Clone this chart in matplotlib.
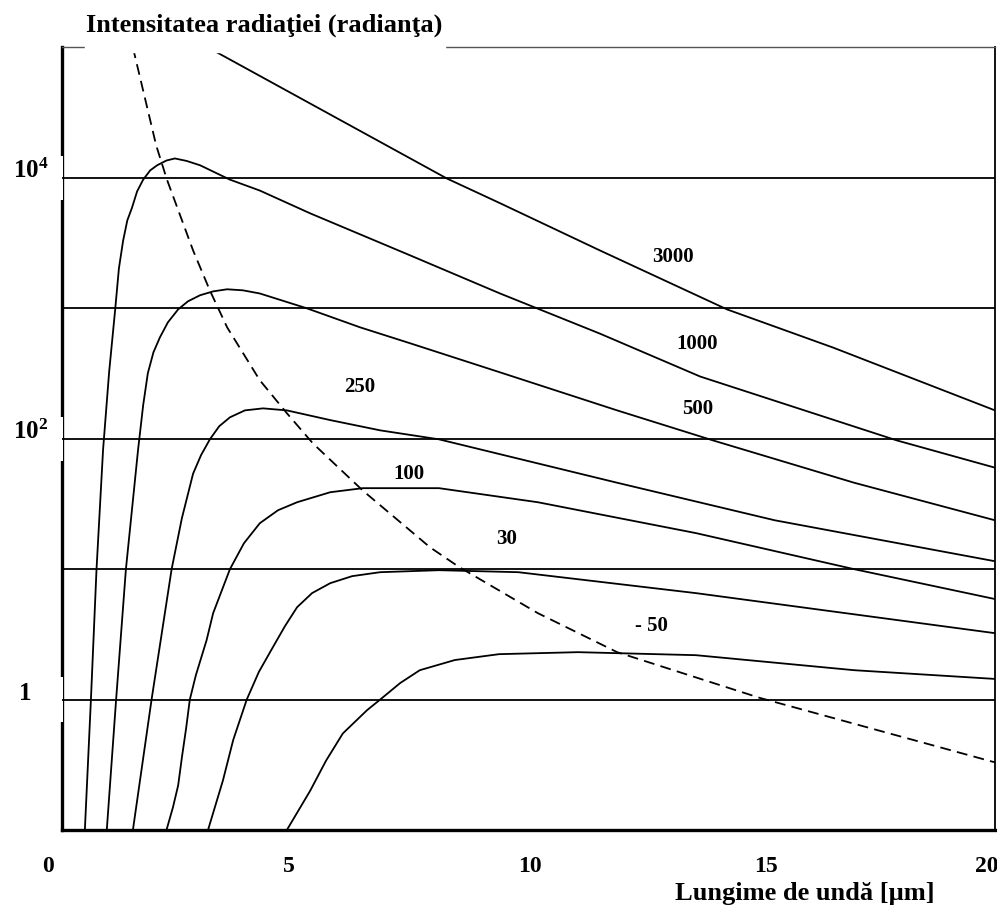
import matplotlib
matplotlib.use("Agg")
import matplotlib.pyplot as plt
import matplotlib.transforms as mtransforms
from matplotlib.patches import Rectangle

# --- data (wavelength in µm, radiance, log scale) ---
c3000_x = [3.13, 8.25, 9.39, 11.53, 14.26, 16.53, 20.0]
c3000_y = [1e5, 9900, 6400, 2780, 980, 500, 165]

c1000_x = [0.49, 0.62, 0.74, 0.88, 1.01, 1.14, 1.22, 1.31, 1.40, 1.50, 1.61, 1.74,
           1.89, 2.04, 2.24, 2.42, 2.67, 2.96, 3.60, 4.24, 5.32, 7.46, 9.39,
           11.53, 13.68, 17.90, 20.0]
c1000_y = [0.1, 1.0, 10, 82, 324, 980, 2025, 3300, 4725, 5900, 7885, 9700,
           11420, 12500, 13600, 14100, 13500, 12500, 9700, 8000, 5350, 2550, 1300,
           640, 300, 97, 60]

c500_x = [0.96, 1.16, 1.37, 1.63, 1.74, 1.84, 1.96, 2.10, 2.27, 2.49, 2.70, 2.96,
          3.24, 3.54, 3.88, 4.24, 5.25, 6.39, 7.46, 9.39, 11.90, 13.96, 16.98, 20.0]
c500_y = [0.1, 1.0, 10, 82, 181, 318, 460, 600, 781, 982, 1132, 1260,
          1349, 1400, 1374, 1300, 1000, 715, 540, 323, 165, 97, 46, 23.7]

c250_x = [1.52, 1.92, 2.35, 2.57, 2.81, 2.98, 3.17, 3.37, 3.60, 3.92, 4.31, 4.82,
          5.75, 6.82, 8.08, 11.90, 15.28, 20.0]
c250_y = [0.1, 1.0, 10, 24.6, 54, 74.8, 99, 124.7, 146, 165, 171, 165,
          139, 116, 99, 46, 23.7, 11.5]

c100_x = [2.24, 2.38, 2.49, 2.57, 2.66, 2.74, 2.87, 3.10, 3.24, 3.60, 3.90, 4.24,
          4.63, 5.04, 5.75, 6.45, 8.08, 10.20, 13.59, 16.98, 20.0]
c100_y = [0.1, 0.15, 0.22, 0.36, 0.6, 1.0, 1.54, 2.86, 4.6, 10, 15.8, 22.5,
          28.3, 32.6, 38.9, 41.8, 41.8, 32.6, 18.9, 10, 5.9]

c30_x = [3.13, 3.45, 3.67, 3.96, 4.22, 4.52, 4.78, 5.04, 5.36, 5.75, 6.22, 6.82,
         8.08, 9.78, 13.59, 20.0]
c30_y = [0.1, 0.24, 0.49, 1.0, 1.63, 2.52, 3.66, 5.11, 6.55, 7.81, 8.84, 9.48,
         9.82, 9.48, 6.55, 3.23]

cm50_x = [4.82, 5.32, 5.66, 6.02, 6.54, 6.82, 7.25, 7.67, 8.42, 9.37, 11.06,
          13.59, 16.98, 20.0]
cm50_y = [0.1, 0.2, 0.34, 0.55, 0.83, 1.0, 1.34, 1.68, 2.01, 2.23, 2.31,
          2.19, 1.68, 1.44]

# maxima line (dashed)
wien_x = [1.52, 2.02, 2.25, 2.81, 3.17, 3.54, 4.24, 4.82, 5.38, 6.45, 7.89,
          8.51, 10.20, 11.90, 14.96, 20.0]
wien_y = [1e5, 17700, 9700, 2780, 1370, 715, 281, 157, 92, 40, 14.7,
          10.4, 4.6, 2.31, 1.03, 0.33]

curve_labels = ["3000", "1000", "500", "250", "100", "30", "- 50"]
label_x = [13.10, 13.61, 13.63, 6.39, 7.44, 9.52, 12.63]
label_y = [2460, 530, 168, 248, 53.5, 17, 3.66]

grid_levels = [1, 10, 100, 1000, 10000]
ytick_vals = [1e4, 1e2, 1]
ytick_text = [r"$\mathbf{10^4}$", r"$\mathbf{10^2}$", "1"]
xtick_vals = [0, 5, 10, 15, 20]
xtick_text = ["0", "5", "10", "15", "20"]

plt.rcParams["font.family"] = ["Liberation Serif", "DejaVu Serif"]
plt.rcParams["font.weight"] = "bold"
plt.rcParams["mathtext.fontset"] = "custom"
plt.rcParams["mathtext.bf"] = "Liberation Serif:bold"
plt.rcParams["mathtext.rm"] = "Liberation Serif:bold"

fig = plt.figure(figsize=(9.97, 9.05), dpi=100)
ax = fig.add_axes([62 / 997, 1 - 830 / 905, 933 / 997, 782.5 / 905])
ax.set_yscale("log")
ax.set_xlim(0, 20)
ax.set_ylim(0.1, 1e5)

for g in grid_levels:
    ax.axhline(g, color="black", lw=1.3, zorder=4)

lw = 1.3
for xs, ys in [(c3000_x, c3000_y), (c1000_x, c1000_y), (c500_x, c500_y),
               (c250_x, c250_y), (c100_x, c100_y), (c30_x, c30_y),
               (cm50_x, cm50_y)]:
    ax.plot(xs, ys, color="black", lw=lw, zorder=5, solid_joinstyle="round")
ax.plot(wien_x, wien_y, color="black", lw=lw, ls=(0, (6, 3.5)), zorder=5)

for t, x, y in zip(curve_labels, label_x, label_y):
    ax.text(x, y, t, ha="center", va="center", fontsize=15, fontweight="bold")

# spines
ax.spines["left"].set_linewidth(2.4)
ax.spines["bottom"].set_linewidth(2.4)
ax.spines["right"].set_linewidth(1.3)
ax.spines["top"].set_linewidth(1.0)
ax.spines["top"].set_color("#555555")

# ticks
ax.minorticks_off()
ax.set_yticks(ytick_vals, ytick_text)
ax.set_xticks(xtick_vals, xtick_text)
ax.tick_params(axis="x", length=0, labelsize=17, pad=19)
ax.tick_params(axis="y", length=0, labelsize=18, pad=0)
y_shift = [31, 31, 37]   # px left of the frame
for lab, s in zip(ax.get_yticklabels(), y_shift):
    lab.set_horizontalalignment("center")
    lab.set_verticalalignment("baseline")
    lab.set_transform(lab.get_transform() + mtransforms.ScaledTranslation(-s / 100, 0, fig.dpi_scale_trans))
x_shift = [-14, -6, 1, 4, -8]
for lab, s in zip(ax.get_xticklabels(), x_shift):
    lab.set_transform(lab.get_transform() + mtransforms.ScaledTranslation(s / 100, 0, fig.dpi_scale_trans))

# white gaps in the left spine around the tick labels
for v in ytick_vals:
    ax.axhspan(v / 10 ** 0.17, v * 10 ** 0.17, xmin=-0.01, xmax=0.0016,
               color="white", clip_on=False, zorder=3, lw=0)

ax.set_xlabel("Lungime de undă [µm]", fontsize=19, fontweight="bold")
ax.xaxis.set_label_coords((805 - 62) / 933, -(893 - 830) / 782.5)
ax.xaxis.label.set_verticalalignment("center")

# title with white box over the top frame line
fig.patches.append(Rectangle((85 / 997, 1 - 52 / 905), 360 / 997, 8 / 905,
                             transform=fig.transFigure, color="white", zorder=1))
fig.text(264 / 997, 1 - 25 / 905, "Intensitatea radiaţiei (radianţa)",
         ha="center", va="center", fontsize=19, fontweight="bold")

fig.savefig("out.png", dpi=100)
